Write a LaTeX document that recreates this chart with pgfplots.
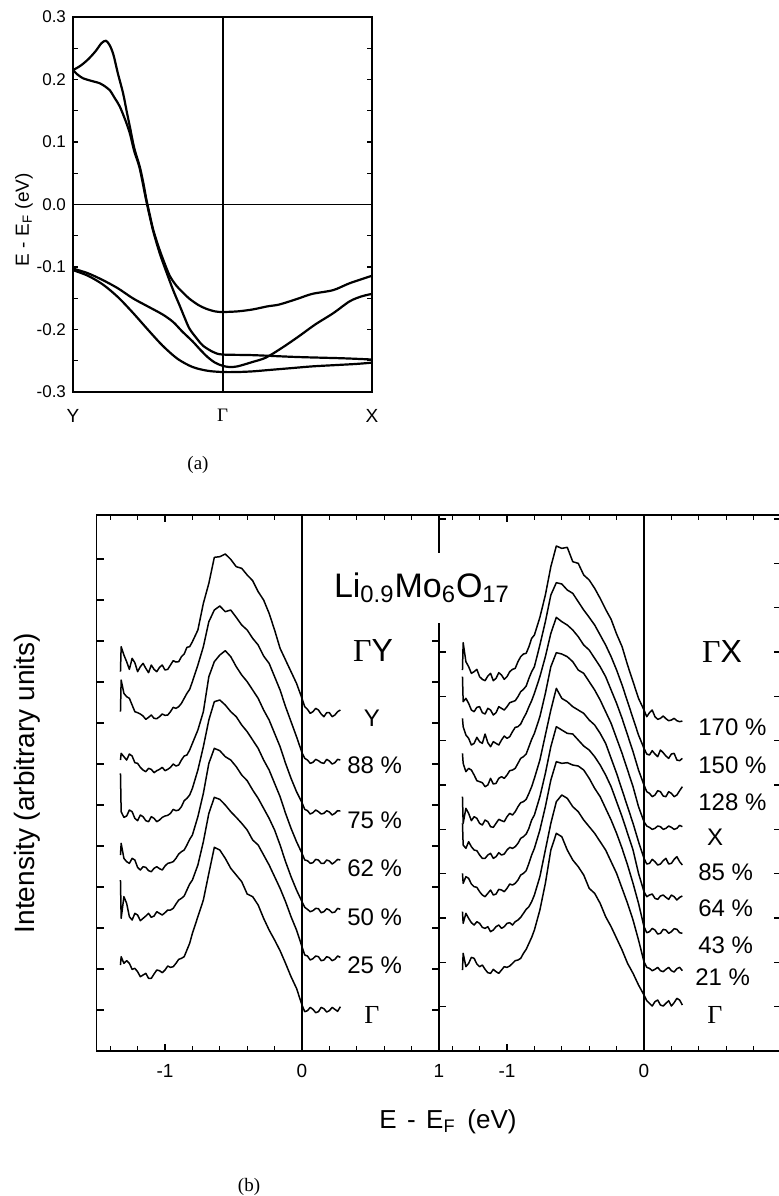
\documentclass[border=0pt]{standalone}
\usepackage{pgfplots}
\pgfplotsset{compat=1.18}
\usepackage{pgfplotstable}
\usepackage{fontspec}
\setmainfont{Liberation Sans}
\newfontfamily\serif{Liberation Serif}

% Panel (b), Gamma-Y spectra (y in arbitrary units, growing downward)
\pgfplotstableread{
E c1 c2 c3 c4 c5 c6 c7
-1.325 425 545 690 730 975 1050 1305
-1.32 350 450 670 845 940 1165 1280
-1.30 375 490 680 862 985 1100 1300
-1.28 395 500 690 858 995 1120 1292
-1.26 418 505 672 840 1000 1160 1300
-1.24 385 525 678 845 985 1170 1318
-1.22 398 545 698 865 990 1150 1315
-1.20 425 548 700 872 1012 1155 1325
-1.18 410 552 712 855 1020 1172 1340
-1.16 400 558 720 860 1010 1165 1335
-1.14 415 568 725 872 1012 1158 1330
-1.12 428 562 715 875 1022 1150 1345
-1.10 405 555 718 860 1025 1162 1345
-1.08 418 565 728 865 1015 1158 1332
-1.06 425 566 722 875 1010 1145 1320
-1.04 412 560 718 870 1016 1150 1322
-1.02 405 552 712 862 1020 1155 1328
-1.00 420 556 722 858 1008 1148 1320
-0.98 418 555 718 856 1000 1140 1308
-0.96 405 545 712 850 998 1140 1312
-0.94 392 532 702 838 995 1135 1310
-0.92 396 535 708 842 985 1122 1300
-0.90 395 530 705 840 972 1110 1288
-0.88 380 520 690 830 965 1105 1285
-0.86 372 505 678 812 960 1098 1280
-0.84 352 490 675 805 945 1080 1260
-0.82 350 478 660 795 928 1062 1240
-0.80 335 455 640 775 915 1050 1210
-0.76 300 405 600 720 860 1005 1160
-0.72 220 350 545 650 790 935 1110
-0.68 160 275 440 570 700 850 1030
-0.64 82 240 395 515 655 802 952
-0.60 80 228 375 510 662 808 960
-0.56 72 245 362 525 680 825 985
-0.52 88 240 380 545 690 845 1015
-0.48 110 262 410 560 710 862 1035
-0.44 115 285 435 585 735 880 1055
-0.40 135 300 455 605 752 900 1092
-0.36 152 325 480 630 780 930 1100
-0.32 185 345 505 655 805 945 1125
-0.28 210 378 540 690 835 975 1165
-0.24 250 400 570 720 865 1005 1200
-0.20 300 440 610 760 900 1040 1230
-0.16 355 480 650 800 945 1075 1262
-0.12 390 530 700 850 995 1115 1300
-0.08 425 575 745 895 1040 1160 1340
-0.04 460 620 785 935 1080 1200 1375
0.00 505 668 818 970 1115 1250 1425
0.02 530 685 838 990 1132 1275 1445
0.04 538 690 842 992 1138 1278 1442
0.06 550 700 852 1000 1145 1290 1432
0.08 545 697 848 998 1142 1286 1438
0.10 535 688 840 988 1135 1278 1448
0.12 540 692 845 990 1136 1280 1445
0.14 552 698 852 1000 1148 1292 1432
0.16 560 700 850 1000 1145 1290 1436
0.18 548 688 842 990 1136 1280 1446
0.20 548 693 846 993 1140 1283 1442
0.22 560 702 855 1002 1148 1292 1432
0.24 555 698 850 996 1146 1288 1438
0.26 545 688 842 988 1135 1278 1444
0.28 540 690 843 990 1138 1282 1430
}\leftdata

% Panel (b), Gamma-X spectra
\pgfplotstableread{
E r1 r2 r3 r4 r5 r6 r7 r8 r9
-1.325 420 440 565 670 800 880 1030 1145 1320
-1.32 338 515 590 700 880 945 1060 1180 1270
-1.30 395 505 615 725 835 955 1040 1150 1310
-1.28 410 520 625 715 850 935 1045 1165 1300
-1.26 430 540 645 720 872 950 1062 1178 1282
-1.24 425 545 640 735 860 960 1070 1185 1285
-1.22 418 532 622 752 865 962 1072 1175 1302
-1.20 440 530 635 755 880 975 1085 1180 1310
-1.18 448 548 640 758 885 985 1095 1192 1305
-1.16 452 552 612 770 870 985 1100 1195 1318
-1.14 438 535 638 765 875 975 1090 1190 1328
-1.12 430 540 650 745 890 970 1080 1205 1330
-1.10 452 555 635 762 892 985 1095 1200 1318
-1.08 445 548 640 760 880 980 1092 1190 1325
-1.06 428 530 645 745 868 968 1078 1185 1330
-1.04 435 535 630 740 872 975 1080 1195 1320
-1.02 448 540 618 745 875 972 1085 1190 1310
-1.00 440 530 625 735 860 960 1075 1180 1312
-0.98 425 518 620 722 850 952 1062 1178 1308
-0.96 418 515 605 720 855 955 1065 1185 1300
-0.94 415 512 592 715 845 950 1060 1175 1292
-0.92 395 500 590 700 830 940 1050 1170 1290
-0.90 380 485 582 685 818 925 1035 1162 1285
-0.88 372 478 565 680 815 920 1030 1150 1270
-0.86 370 468 550 672 808 912 1022 1138 1258
-0.84 350 445 530 650 790 895 1000 1130 1240
-0.82 325 425 512 628 770 870 975 1115 1222
-0.80 315 410 490 610 745 855 955 1095 1200
-0.76 262 345 440 560 690 800 900 1040 1140
-0.72 195 275 380 490 615 730 830 960 1060
-0.68 110 195 310 410 540 650 750 880 960
-0.64 48 158 262 368 475 590 695 815 910
-0.60 55 162 275 372 505 600 700 795 920
-0.56 52 180 285 380 515 610 698 805 960
-0.52 95 190 300 395 530 612 705 830 990
-0.48 100 215 320 420 540 630 708 845 1010
-0.44 135 240 345 430 550 648 720 870 1035
-0.40 150 262 360 455 570 660 745 890 1075
-0.36 175 285 385 480 585 680 775 910 1090
-0.32 205 315 410 510 610 705 800 935 1120
-0.28 238 345 440 545 640 735 835 960 1160
-0.24 268 380 480 580 685 770 870 995 1190
-0.20 312 420 520 625 730 815 910 1030 1225
-0.16 350 465 565 670 780 860 955 1075 1260
-0.12 405 515 615 720 830 910 1005 1120 1300
-0.08 455 565 665 770 880 960 1060 1170 1330
-0.04 505 615 720 830 935 1030 1120 1230 1365
0.00 540 655 765 875 985 1085 1190 1295 1395
0.02 560 672 785 888 1002 1100 1208 1312 1412
0.04 548 675 790 892 1000 1095 1205 1315 1420
0.06 540 662 800 898 988 1092 1195 1322 1428
0.08 560 672 795 895 995 1105 1200 1318 1415
0.10 568 680 782 888 1005 1108 1212 1312 1410
0.12 565 660 785 890 1002 1098 1210 1322 1425
0.14 558 668 798 898 992 1095 1198 1325 1428
0.16 566 678 800 895 985 1102 1200 1318 1420
0.18 572 685 785 888 1002 1108 1210 1312 1412
0.20 570 672 790 892 1000 1095 1205 1322 1428
0.22 565 670 800 898 988 1100 1196 1326 1418
0.24 572 690 795 895 980 1110 1198 1316 1405
0.26 575 692 782 886 995 1102 1208 1312 1410
0.28 573 685 770 890 1005 1098 1210 1322 1425
}\rightdata

\pgfplotsset{
  specb/.style={
    scale only axis, width=171.25pt, height=268pt,
    xmin=-1.5, xmax=1, ymin=-45, ymax=1563, y dir=reverse,
    axis line style={line width=0.9pt},
    xtick={-1,0,1},
    minor xtick={-1.4,-1.2,-0.8,-0.6,-0.4,-0.2,0.2,0.4,0.6,0.8},
    xtick pos=both, ytick pos=both, tick align=inside,
    major tick length=3.5pt, minor tick length=2.5pt,
    every tick/.style={black, line width=0.6pt},
    yticklabels={},
    xticklabel style={font=\fontsize{9.5}{11}\selectfont, yshift=-3pt},
    clip=false,
  },
  spec/.style={black, line width=0.75pt, line join=round, mark=none},
}

\begin{document}
\begin{tikzpicture}[x=0.5pt,y=-0.5pt]
\useasboundingbox (0,0) rectangle (778,1196);

% ---------------- panel (a)
\begin{axis}[
  at={(111.25pt,-102.25pt)}, anchor=center,
  scale only axis, width=149.5pt, height=187.5pt,
  xmin=0, xmax=2, ymin=-0.3, ymax=0.3,
  axis line style={line width=0.9pt},
  xtick={0,1,2}, xticklabels={Y,{\serif Γ},X},
  xtick style={draw=none},
  xticklabel style={font=\fontsize{9.5}{11}\selectfont, yshift=-5pt},
  ytick={-0.3,-0.2,-0.1,0,0.1,0.2,0.3},
  yticklabels={-0.3,-0.2,-0.1,0.0,0.1,0.2,0.3},
  minor ytick={-0.25,-0.15,-0.05,0.05,0.15,0.25},
  ytick pos=both, tick align=inside,
  major tick length=2.5pt, minor tick length=2.5pt,
  every tick/.style={black, line width=0.6pt},
  yticklabel style={font=\fontsize{8.5}{10}\selectfont},
]
\draw[line width=0.4pt] (axis cs:0,0) -- (axis cs:2,0);
\draw[line width=1pt] (axis cs:1,-0.3) -- (axis cs:1,0.3);
\addplot[black, line width=1.1pt, smooth, tension=0.5, mark=none] coordinates {
(0,0.215) (0.05,0.222) (0.10,0.232) (0.15,0.245) (0.19,0.258) (0.22,0.262)
(0.245,0.255) (0.27,0.24) (0.30,0.21) (0.335,0.178) (0.36,0.148) (0.38,0.125)
(0.41,0.09) (0.446,0.061) (0.47,0.035) (0.491,0.008) (0.515,-0.018) (0.536,-0.040)
(0.57,-0.066) (0.603,-0.088) (0.647,-0.114) (0.692,-0.130) (0.74,-0.142) (0.78,-0.151)
(0.84,-0.161) (0.893,-0.167) (0.95,-0.171) (1.0,-0.172) (1.1,-0.171) (1.2,-0.168)
(1.3,-0.163) (1.38,-0.160) (1.5,-0.151) (1.6,-0.143) (1.74,-0.137) (1.85,-0.126) (2.0,-0.114)};
\addplot[black, line width=1.1pt, smooth, tension=0.5, mark=none] coordinates {
(0,0.215) (0.03,0.208) (0.067,0.202) (0.12,0.198) (0.179,0.194) (0.22,0.188)
(0.246,0.183) (0.28,0.170) (0.3125,0.157) (0.35,0.135) (0.38,0.114) (0.41,0.085)
(0.446,0.058) (0.491,0.005) (0.536,-0.042) (0.58,-0.078) (0.62,-0.105) (0.67,-0.137)
(0.714,-0.162) (0.75,-0.183) (0.78,-0.199) (0.83,-0.215) (0.87,-0.226) (0.9375,-0.236)
(1.0,-0.240) (1.2,-0.241) (1.5,-0.244) (1.8,-0.246) (2.0,-0.248)};
\addplot[black, line width=1.1pt, smooth, tension=0.5, mark=none] coordinates {
(0,-0.1025) (0.1,-0.110) (0.2,-0.121) (0.3,-0.134) (0.4,-0.150) (0.5,-0.163)
(0.6,-0.176) (0.67,-0.188) (0.73,-0.203) (0.80,-0.219) (0.85,-0.232) (0.9,-0.244)
(0.95,-0.253) (1.0,-0.258) (1.045,-0.260) (1.1,-0.259) (1.2,-0.252) (1.29,-0.245)
(1.4,-0.229) (1.51,-0.211) (1.62,-0.192) (1.74,-0.174) (1.85,-0.155) (1.93,-0.147) (2.0,-0.143)};
\addplot[black, line width=1.1pt, smooth, tension=0.5, mark=none] coordinates {
(0,-0.105) (0.1,-0.114) (0.2,-0.128) (0.3,-0.148) (0.4,-0.173) (0.5,-0.200)
(0.6,-0.226) (0.7,-0.247) (0.8,-0.260) (0.9,-0.266) (1.0,-0.268) (1.1,-0.268)
(1.2,-0.267) (1.3,-0.265) (1.45,-0.262) (1.6,-0.259) (1.75,-0.257) (1.9,-0.255) (2.0,-0.253)};
\end{axis}

% ---------------- panel (b), left: Gamma-Y
\begin{axis}[specb, at={(133.875pt,-391.5pt)}, anchor=center,
  xticklabels={-1,0,1},
  ytick={87,210,333,456,579,702,825,948,1071,1194,1317,1440}]
\draw[line width=0.6pt] (axis cs:0,-45) -- (axis cs:0,1563);
\addplot[spec] table[x=E, y=c1] {\leftdata};
\addplot[spec] table[x=E, y=c2] {\leftdata};
\addplot[spec] table[x=E, y=c3] {\leftdata};
\addplot[spec] table[x=E, y=c4] {\leftdata};
\addplot[spec] table[x=E, y=c5] {\leftdata};
\addplot[spec] table[x=E, y=c6] {\leftdata};
\addplot[spec] table[x=E, y=c7] {\leftdata};
\end{axis}

% ---------------- panel (b), right: Gamma-X
\begin{axis}[specb, at={(304.875pt,-391.5pt)}, anchor=center,
  xticklabels={-1,0,{}},
  ytick={-33,100,233,366,499,632,765,898,1031,1164,1297,1430}]
\draw[line width=0.6pt] (axis cs:0,-45) -- (axis cs:0,1563);
\addplot[spec] table[x=E, y=r1] {\rightdata};
\addplot[spec] table[x=E, y=r2] {\rightdata};
\addplot[spec] table[x=E, y=r3] {\rightdata};
\addplot[spec] table[x=E, y=r4] {\rightdata};
\addplot[spec] table[x=E, y=r5] {\rightdata};
\addplot[spec] table[x=E, y=r6] {\rightdata};
\addplot[spec] table[x=E, y=r7] {\rightdata};
\addplot[spec] table[x=E, y=r8] {\rightdata};
\addplot[spec] table[x=E, y=r9] {\rightdata};
\end{axis}

% title with white background breaking the middle frame
\node[fill=white, inner xsep=3pt, minimum height=35pt,
      font=\fontsize{17}{20}\selectfont] at (422,588)
  {Li\textsubscript{0.9}Mo\textsubscript{6}O\textsubscript{17}};

\begin{scope}[every node/.style={inner sep=0pt}]
% left panel labels
\node[font=\fontsize{16}{18}\selectfont] at (373,650) {{\serif Γ}Y};
\node[font=\fontsize{12}{14}\selectfont] at (372,718) {Y};
\node[anchor=west, font=\fontsize{12}{14}\selectfont] at (347,765) {88 \%};
\node[anchor=west, font=\fontsize{12}{14}\selectfont] at (347,820) {75 \%};
\node[anchor=west, font=\fontsize{12}{14}\selectfont] at (347,868) {62 \%};
\node[anchor=west, font=\fontsize{12}{14}\selectfont] at (347,917) {50 \%};
\node[anchor=west, font=\fontsize{12}{14}\selectfont] at (347,965) {25 \%};
\node[font=\fontsize{13}{15}\serif] at (372,1015) {Γ};
% right panel labels
\node[font=\fontsize{16}{18}\selectfont] at (722,651) {{\serif Γ}X};
\node[anchor=west, font=\fontsize{12}{14}\selectfont] at (698,727) {170 \%};
\node[anchor=west, font=\fontsize{12}{14}\selectfont] at (698,765) {150 \%};
\node[anchor=west, font=\fontsize{12}{14}\selectfont] at (698,802) {128 \%};
\node[font=\fontsize{12}{14}\selectfont] at (715,837) {X};
\node[anchor=west, font=\fontsize{12}{14}\selectfont] at (698,872) {85 \%};
\node[anchor=west, font=\fontsize{12}{14}\selectfont] at (698,908) {64 \%};
\node[anchor=west, font=\fontsize{12}{14}\selectfont] at (698,945) {43 \%};
\node[anchor=west, font=\fontsize{12}{14}\selectfont] at (695,977) {21 \%};
\node[font=\fontsize{13}{15}\serif] at (715,1015) {Γ};
\end{scope}

% axis titles and panel marks
\node[rotate=90, font=\fontsize{9.5}{11}\selectfont] at (24,220)
  {E\hspace{0.3em}-\hspace{0.3em}E\textsubscript{F} (eV)};
\node[rotate=90, font=\fontsize{14}{16}\selectfont] at (27,783) {Intensity (arbitrary units)};
\node[font=\fontsize{13}{15}\selectfont] at (448,1122)
  {E\hspace{0.4em}-\hspace{0.4em}E\textsubscript{F}\hspace{0.45em}(eV)};
\node[font=\fontsize{9.5}{11}\serif] at (198,465) {(a)};
\node[font=\fontsize{9.5}{11}\serif] at (249,1187) {(b)};
\end{tikzpicture}
\end{document}
